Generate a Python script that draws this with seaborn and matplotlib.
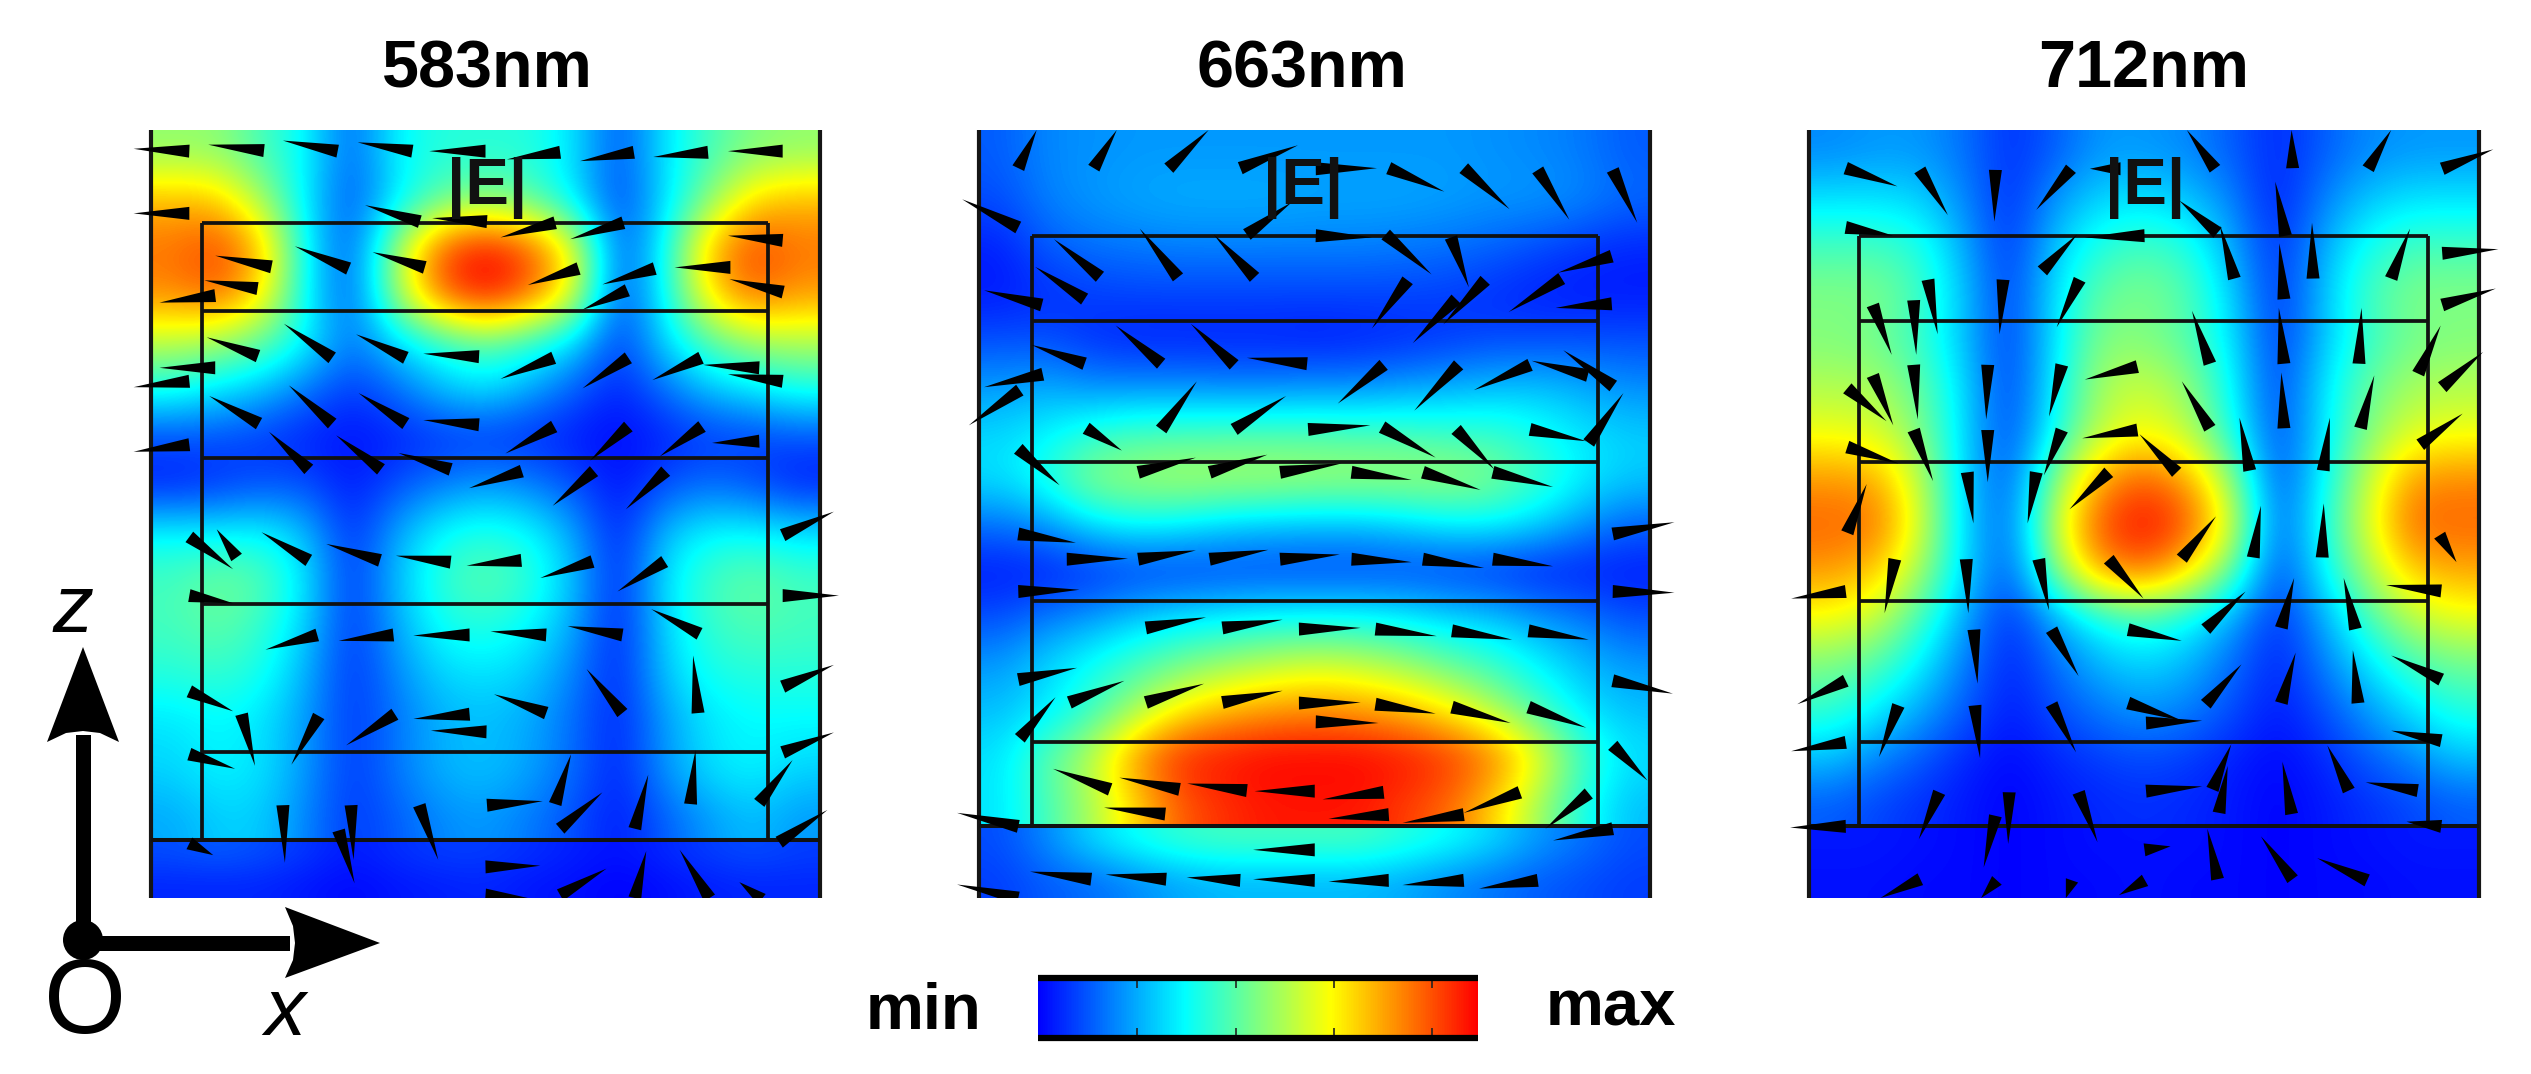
"""Field maps |E| at three wavelengths with polarisation wedges."""

import numpy as np
import matplotlib
matplotlib.use("Agg")
import matplotlib.pyplot as plt
import seaborn as sns
from matplotlib.collections import PolyCollection
from matplotlib.patches import Circle, Polygon, Rectangle

WIDTH, HEIGHT = 2531, 1074
PANEL_TOP, PANEL_BOTTOM = 130, 898

wavelengths = ["583nm", "663nm", "712nm"]

# |E|, 0 = min and 1 = max, rows run top to bottom
p1_field = [
    [.52, .52, .42, .33, .12, .33, .38, .38, .38, .30, .10, .30, .42, .50, .52],
    [.76, .74, .55, .30, .10, .30, .45, .50, .45, .30, .08, .28, .50, .72, .76],
    [.85, .92, .76, .32, .10, .55, .90, 1.0, .90, .66, .10, .33, .76, .92, .85],
    [.82, .88, .70, .32, .10, .55, .88, 1.0, .88, .64, .08, .33, .70, .87, .80],
    [.58, .54, .46, .33, .15, .28, .38, .45, .38, .28, .07, .28, .44, .54, .56],
    [.36, .30, .25, .15, .07, .14, .25, .30, .22, .12, .04, .14, .25, .30, .36],
    [.10, .10, .07, .04, .02, .04, .06, .06, .05, .03, .01, .04, .07, .08, .10],
    [.03, .06, .10, .10, .03, .10, .16, .20, .17, .10, .02, .10, .14, .10, .03],
    [.33, .32, .33, .25, .05, .22, .34, .38, .34, .22, .03, .25, .33, .33, .30],
    [.42, .48, .45, .30, .06, .25, .40, .46, .40, .25, .04, .30, .42, .47, .42],
    [.42, .46, .40, .27, .06, .22, .35, .38, .33, .22, .03, .28, .40, .44, .42],
    [.38, .40, .36, .23, .06, .18, .28, .30, .27, .17, .04, .26, .36, .38, .38],
    [.30, .33, .30, .20, .07, .15, .23, .25, .22, .14, .04, .20, .30, .33, .33],
    [.28, .33, .30, .20, .07, .16, .24, .26, .22, .14, .04, .20, .30, .33, .28],
    [.22, .27, .27, .17, .07, .12, .18, .20, .16, .10, .03, .12, .20, .25, .20],
]
p1_substrate = [
    [.10, .12, .10, .07, .03, .06, .08, .08, .06, .04, .02, .05, .08, .10, .08],
    [.05, .05, .05, .03, .01, .03, .04, .05, .03, .02, .00, .02, .04, .05, .05],
]
p2_field = [
    [.12, .18, .19, .20, .20, .20, .20, .20, .20, .20, .20, .19, .18, .16, .12],
    [.10, .17, .20, .22, .23, .23, .23, .22, .22, .22, .21, .20, .20, .18, .14],
    [.04, .12, .15, .16, .17, .17, .17, .17, .17, .16, .15, .13, .10, .07, .05],
    [.03, .06, .08, .09, .09, .09, .09, .09, .09, .09, .08, .06, .04, .03, .03],
    [.10, .10, .06, .04, .04, .04, .04, .03, .04, .05, .07, .09, .09, .10, .10],
    [.20, .22, .18, .18, .18, .17, .17, .18, .18, .20, .22, .24, .25, .22, .18],
    [.28, .32, .38, .42, .42, .43, .43, .43, .42, .42, .40, .40, .35, .30, .27],
    [.30, .38, .52, .55, .57, .57, .57, .56, .56, .55, .55, .50, .42, .32, .27],
    [.15, .20, .30, .34, .32, .28, .26, .25, .25, .28, .32, .33, .28, .20, .13],
    [.03, .03, .05, .07, .07, .08, .08, .08, .08, .08, .07, .05, .03, .03, .03],
    [.10, .16, .20, .26, .30, .32, .34, .34, .34, .32, .28, .26, .20, .16, .10],
    [.20, .28, .35, .42, .48, .53, .57, .60, .58, .53, .46, .40, .32, .25, .20],
    [.25, .30, .40, .54, .68, .76, .80, .82, .80, .76, .68, .56, .42, .30, .25],
    [.30, .45, .58, .82, .96, .98, 1.0, 1.0, 1.0, .98, .94, .85, .66, .42, .30],
    [.30, .42, .55, .72, .88, .94, .97, .97, .97, .92, .86, .72, .54, .36, .25],
]
p2_substrate = [
    [.10, .18, .28, .35, .40, .42, .42, .42, .42, .38, .34, .28, .20, .15, .10],
    [.08, .12, .14, .18, .22, .24, .24, .24, .24, .22, .18, .15, .12, .10, .08],
]
p3_field = [
    [.18, .20, .20, .15, .06, .12, .20, .20, .18, .12, .05, .12, .18, .20, .20],
    [.30, .30, .28, .18, .05, .20, .28, .30, .26, .17, .03, .17, .26, .30, .30],
    [.42, .42, .38, .22, .06, .26, .38, .42, .38, .22, .05, .22, .36, .42, .42],
    [.50, .50, .42, .25, .07, .30, .46, .50, .44, .27, .05, .25, .42, .50, .50],
    [.50, .48, .40, .25, .07, .30, .50, .50, .44, .30, .06, .25, .40, .48, .50],
    [.56, .55, .46, .28, .07, .32, .55, .60, .52, .33, .07, .30, .46, .55, .56],
    [.64, .62, .50, .28, .08, .35, .58, .66, .58, .36, .08, .30, .50, .62, .64],
    [.80, .78, .58, .27, .10, .50, .78, .88, .78, .52, .08, .33, .58, .80, .82],
    [.87, .86, .62, .27, .12, .60, .90, 1.0, .90, .62, .10, .36, .62, .87, .87],
    [.80, .74, .55, .28, .10, .50, .80, .86, .72, .46, .08, .32, .55, .74, .78],
    [.66, .60, .42, .22, .05, .22, .36, .42, .34, .22, .05, .22, .42, .58, .64],
    [.50, .44, .32, .16, .04, .14, .24, .28, .24, .14, .04, .16, .30, .42, .48],
    [.40, .32, .22, .12, .03, .10, .16, .20, .17, .10, .03, .10, .20, .30, .38],
    [.26, .18, .12, .05, .01, .05, .08, .10, .08, .04, .01, .05, .12, .18, .26],
    [.12, .09, .06, .03, .00, .03, .05, .06, .05, .03, .00, .03, .06, .09, .12],
]
p3_substrate = [
    [.03, .03, .02, .01, .00, .01, .02, .02, .02, .01, .00, .01, .02, .03, .03],
    [.02, .02, .01, .01, .00, .01, .01, .02, .01, .01, .00, .01, .01, .02, .02],
]

# wedges: base x, base z, tip x, tip z
p1_arrows = [
    (180, 258, 68, 254), (330, 257, 218, 247), (478, 258, 368, 240), (628, 258, 518, 243),
    (775, 258, 662, 258), (925, 260, 818, 272), (1073, 260, 965, 275), (1222, 260, 1112, 268),
    (1372, 258, 1262, 258), (180, 364, 68, 364), (643, 378, 533, 350), (778, 378, 668, 372),
    (915, 380, 805, 405), (1052, 380, 945, 408), (1372, 410, 1262, 402), (345, 455, 232, 436),
    (500, 458, 392, 420), (653, 456, 548, 430), (962, 458, 860, 486), (1115, 458, 1010, 485),
    (1267, 456, 1155, 456), (317, 492, 210, 478), (232, 504, 120, 516), (1060, 495, 970, 528),
    (1373, 498, 1265, 476), (318, 607, 215, 575), (467, 610, 370, 552), (615, 610, 515, 570),
    (762, 608, 650, 603), (912, 610, 805, 646), (1062, 610, 970, 662), (1208, 610, 1110, 648),
    (1325, 627, 1212, 622), (1372, 650, 1262, 638), (232, 627, 120, 627), (180, 650, 68, 660),
    (180, 758, 68, 770), (320, 722, 220, 675), (467, 722, 380, 657), (615, 722, 520, 670),
    (762, 724, 650, 716), (913, 727, 815, 773), (1062, 727, 985, 785), (1210, 727, 1125, 778),
    (1325, 752, 1230, 755), (420, 800, 340, 736), (565, 800, 475, 742), (705, 800, 600, 772),
    (848, 803, 742, 832), (993, 803, 910, 862), (1137, 803, 1057, 868), (1372, 912, 1475, 872),
    (1372, 1015, 1485, 1015), (1372, 1170, 1475, 1133), (1372, 1282, 1475, 1248),
    (1365, 1435, 1462, 1380), (1325, 1368, 1392, 1295), (180, 915, 268, 970), (275, 950, 235, 902),
    (420, 955, 325, 907), (563, 955, 455, 927), (705, 958, 595, 947), (847, 955, 737, 964),
    (990, 957, 885, 985), (1135, 957, 1040, 1008), (180, 1015, 268, 1028), (437, 1082, 333, 1107),
    (590, 1082, 480, 1092), (743, 1082, 630, 1083), (897, 1082, 785, 1076), (1050, 1082, 940, 1067),
    (1205, 1080, 1108, 1038), (1202, 1215, 1192, 1117), (1050, 1215, 978, 1140),
    (897, 1215, 792, 1183), (743, 1217, 630, 1225), (593, 1217, 495, 1270), (440, 1220, 385, 1303),
    (285, 1217, 312, 1305), (180, 1178, 268, 1212), (180, 1285, 272, 1310), (777, 1247, 665, 1245),
    (778, 1372, 890, 1365), (915, 1370, 947, 1285), (925, 1412, 1010, 1350), (1075, 1412, 1102, 1320),
    (1187, 1370, 1197, 1278), (368, 1372, 372, 1470), (505, 1372, 510, 1465), (642, 1372, 680, 1465),
    (480, 1415, 512, 1505), (180, 1437, 228, 1457), (775, 1477, 885, 1475), (925, 1525, 1018, 1480),
    (1075, 1530, 1098, 1450), (1225, 1530, 1165, 1448), (1330, 1532, 1285, 1503), (775, 1525, 860, 1530),
]
p2_arrows = [
    (232, 287, 268, 222), (380, 287, 425, 222), (527, 287, 605, 222), (667, 287, 780, 248),
    (815, 288, 935, 287), (958, 287, 1067, 327), (1105, 287, 1195, 357), (1250, 290, 1312, 375),
    (1397, 290, 1445, 380), (232, 388, 122, 340), (680, 400, 768, 345), (815, 402, 925, 405),
    (392, 472, 302, 408), (545, 473, 470, 390), (695, 473, 615, 400), (952, 400, 1042, 468),
    (1080, 405, 1115, 490), (362, 510, 265, 455), (278, 520, 165, 495), (995, 478, 925, 560),
    (1147, 478, 1065, 553), (1297, 475, 1193, 532), (1395, 437, 1290, 465), (1395, 518, 1285, 525),
    (1090, 510, 1005, 585), (512, 620, 423, 555), (655, 622, 570, 552), (798, 620, 680, 610),
    (362, 620, 258, 588), (948, 622, 858, 688), (1095, 622, 1008, 700), (1235, 622, 1125, 665),
    (1348, 640, 1238, 615), (1398, 658, 1300, 597), (280, 638, 165, 660), (235, 665, 135, 725),
    (512, 732, 582, 650), (655, 732, 757, 675), (800, 732, 922, 725), (945, 728, 1050, 780),
    (1090, 732, 1165, 800), (1235, 732, 1345, 752), (1350, 755, 1418, 670), (365, 730, 435, 768),
    (232, 765, 313, 827), (467, 805, 580, 780), (607, 805, 720, 775), (745, 805, 865, 790),
    (885, 805, 1003, 818), (1025, 805, 1138, 835), (1162, 805, 1280, 830), (232, 910, 345, 925),
    (1397, 910, 1518, 890), (327, 953, 447, 952), (467, 953, 580, 938), (607, 953, 722, 937),
    (745, 953, 862, 945), (885, 953, 1003, 958), (1025, 953, 1145, 968), (1162, 953, 1280, 965),
    (232, 1008, 352, 1005), (1397, 1008, 1518, 1010), (482, 1070, 600, 1052), (632, 1070, 750, 1056),
    (782, 1072, 903, 1070), (932, 1072, 1052, 1084), (1082, 1075, 1200, 1090), (1232, 1075, 1350, 1090),
    (232, 1158, 347, 1138), (332, 1197, 440, 1160), (482, 1197, 596, 1165), (632, 1197, 750, 1177),
    (782, 1198, 903, 1197), (932, 1200, 1050, 1216), (1082, 1205, 1197, 1232), (1232, 1205, 1345, 1240),
    (1397, 1160, 1515, 1182), (815, 1230, 938, 1232), (235, 1258, 305, 1188), (1397, 1270, 1465, 1330),
    (412, 1345, 300, 1310), (548, 1345, 430, 1325), (680, 1347, 563, 1335), (813, 1348, 695, 1348),
    (948, 1350, 828, 1362), (1215, 1350, 1105, 1385), (1350, 1352, 1265, 1412), (520, 1387, 400, 1376),
    (958, 1388, 840, 1395), (1105, 1388, 985, 1402), (232, 1408, 112, 1385), (1397, 1412, 1280, 1432),
    (813, 1448, 692, 1448), (375, 1498, 255, 1485), (522, 1498, 403, 1490), (667, 1500, 562, 1495),
    (813, 1500, 692, 1498), (958, 1500, 840, 1502), (1105, 1500, 985, 1508), (1250, 1500, 1135, 1514),
    (232, 1530, 112, 1507),
]
p3_arrows = [
    (247, 287, 348, 318), (392, 290, 447, 367), (540, 290, 538, 378), (688, 288, 620, 358),
    (785, 288, 725, 288), (970, 288, 915, 222), (1122, 287, 1120, 222), (1270, 288, 1315, 222),
    (1415, 288, 1515, 255), (247, 388, 340, 402), (832, 402, 715, 405), (975, 397, 900, 342),
    (1415, 432, 1525, 425), (1108, 402, 1088, 310), (632, 462, 700, 400), (1008, 475, 980, 385),
    (1162, 475, 1160, 380), (1315, 475, 1352, 390), (1105, 510, 1096, 415), (1415, 520, 1520, 492),
    (408, 477, 427, 570), (555, 477, 548, 570), (705, 477, 660, 558), (300, 520, 337, 605),
    (380, 512, 385, 605), (1105, 620, 1095, 525), (960, 620, 925, 530), (1252, 620, 1257, 525),
    (1368, 637, 1412, 555), (1415, 660, 1495, 600), (380, 622, 388, 715), (525, 622, 522, 715),
    (670, 622, 645, 710), (818, 625, 715, 647), (300, 640, 340, 725), (250, 662, 327, 718),
    (1105, 730, 1100, 635), (960, 730, 905, 650), (1255, 730, 1282, 640), (1372, 758, 1455, 705),
    (818, 733, 710, 747), (250, 762, 350, 790), (380, 733, 418, 820), (525, 733, 525, 822),
    (670, 733, 635, 810), (620, 805, 603, 892), (1038, 802, 1018, 712), (1182, 802, 1195, 712),
    (895, 805, 822, 740), (762, 805, 685, 868), (485, 805, 497, 892), (250, 908, 288, 825),
    (1045, 950, 1060, 862), (1180, 950, 1183, 858), (905, 952, 972, 880), (1410, 912, 1443, 958),
    (343, 953, 323, 1045), (483, 953, 487, 1045), (625, 953, 645, 1040), (762, 953, 830, 1020),
    (247, 1008, 140, 1020), (1413, 1007, 1305, 997), (1100, 1070, 1125, 985), (1245, 1072, 1222, 985),
    (952, 1072, 1030, 1008), (498, 1073, 505, 1165), (650, 1073, 703, 1152), (800, 1073, 905, 1092),
    (247, 1160, 152, 1200), (1100, 1198, 1128, 1112), (1250, 1198, 1240, 1108), (952, 1200, 1022, 1132),
    (1413, 1158, 1315, 1117), (350, 1202, 312, 1290), (500, 1202, 510, 1292), (650, 1200, 698, 1282),
    (800, 1198, 905, 1228), (835, 1232, 945, 1228), (247, 1265, 140, 1280), (1413, 1262, 1315, 1245),
    (965, 1345, 1002, 1268), (978, 1385, 995, 1305), (1120, 1387, 1102, 1298), (1232, 1347, 1190, 1270),
    (1367, 1347, 1265, 1333), (835, 1348, 945, 1340), (430, 1350, 390, 1430), (567, 1350, 565, 1438),
    (703, 1350, 740, 1435), (247, 1408, 138, 1410), (1413, 1408, 1345, 1400), (540, 1390, 517, 1478),
    (975, 1498, 955, 1412), (1122, 1498, 1060, 1425), (1268, 1500, 1170, 1462), (832, 1448, 883, 1442),
    (393, 1498, 315, 1530), (543, 1500, 512, 1530), (690, 1500, 678, 1530), (833, 1500, 782, 1525),
]

# panel geometry: data limits, pixel span, slab box and layer boundaries
p1_limits, p1_span = (103, 1447), (151, 820)
p2_limits, p2_span = (155, 1470), (979, 1650)
p3_limits, p3_span = (175, 1487), (1809, 2479)
p1_box, p1_layers = (205, 1343), [380, 530, 780, 1030, 1282]
p2_box, p2_layers = (258, 1368), [403, 548, 787, 1025, 1265]
p3_box, p3_layers = (273, 1387), [403, 547, 787, 1025, 1265]
p1_floor, p2_floor, p3_floor = 1432, 1407, 1407
label_x = [778, 790, 833]
title_x = [487, 1302, 2144]
z_limits = (1530, 222)
cbar_ticks = [0.225, 0.449, 0.673, 0.896]

sns.set_theme(style="white")
plt.rcParams["font.family"] = ["Liberation Sans", "DejaVu Sans"]
plt.rcParams["text.color"] = "black"
field_cmap = sns.blend_palette(["#0000ff", "#00ffff", "#ffff00", "#ff0000"], n_colors=256, as_cmap=True)


def axes_from_pixels(fig, left, top, right, bottom):
    return fig.add_axes([left / WIDTH, 1 - bottom / HEIGHT, (right - left) / WIDTH, (bottom - top) / HEIGHT])


def wedge_polygons(arrows, sx, sy, half_width=6.5):
    """Thin triangles from base to tip, the base width given in pixels."""
    polys = []
    for bx, bz, tx, tz in arrows:
        dx, dy = (tx - bx) * sx, (tz - bz) * sy
        norm = np.hypot(dx, dy)
        nx, ny = -dy / norm * half_width, dx / norm * half_width
        polys.append([(bx + nx / sx, bz + ny / sy), (bx - nx / sx, bz - ny / sy), (tx, tz)])
    return polys


def draw_panel(fig, field, substrate, arrows, limits, span, box, layers, floor, e_x):
    ax = axes_from_pixels(fig, span[0], PANEL_TOP, span[1], PANEL_BOTTOM)
    # slab and substrate are separate images, the field jumps at the interface
    for values, low, high in [(field, floor, z_limits[1]), (substrate, z_limits[0], floor)]:
        ax.imshow(values, cmap=field_cmap, vmin=0, vmax=1, interpolation="bicubic",
                  interpolation_stage="data", aspect="auto",
                  extent=(limits[0], limits[1], low, high))
    ax.set_xlim(limits)
    ax.set_ylim(z_limits)
    ax.axis("off")

    # outer edges, slab outline and layer boundaries
    ax.vlines(limits, *z_limits, color="#151515", lw=3.0, clip_on=False)
    ax.vlines(box, layers[0], floor, color="#111111", lw=2.7)
    ax.hlines(layers, box[0], box[1], color="#111111", lw=2.7)
    ax.hlines(floor, limits[0], limits[1], color="#111111", lw=2.9)

    # wedges may leave the panel sideways but are cut at top and bottom
    sx = (span[1] - span[0]) / (limits[1] - limits[0])
    sy = (PANEL_BOTTOM - PANEL_TOP) / (z_limits[0] - z_limits[1])
    wedges = PolyCollection(wedge_polygons(arrows, sx, sy), facecolors="black", edgecolors="none", zorder=5)
    ax.add_collection(wedges)
    wedges.set_clip_path(Rectangle((-2000, z_limits[1]), 6000, z_limits[0] - z_limits[1], transform=ax.transData))

    ax.text(e_x, 320, "|E|", ha="center", va="center", fontsize=47, fontweight="bold", color="#111111", zorder=6)


def draw_colorbar(fig):
    ax = axes_from_pixels(fig, 1038, 978, 1478, 1038)
    ramp = np.linspace(0, 1, 256)[None, :]
    sns.heatmap(ramp, ax=ax, cmap=field_cmap, vmin=0, vmax=1, cbar=False, xticklabels=False, yticklabels=False)
    for frac in cbar_ticks:
        ax.vlines(256 * frac, 0, 0.17, color="#222222", lw=1.2)
        ax.vlines(256 * frac, 0.83, 1, color="#222222", lw=1.2)
    ax.hlines([0, 1], 0, 256, color="black", lw=4.5, clip_on=False)


def draw_overlay(fig):
    ax = fig.add_axes([0, 0, 1, 1])
    ax.set_xlim(0, WIDTH)
    ax.set_ylim(HEIGHT, 0)
    ax.axis("off")
    ax.patch.set_alpha(0)

    for label, cx in zip(wavelengths, title_x):
        ax.text(cx, 70, label, ha="center", va="center", fontsize=48, fontweight="bold")

    # coordinate triad
    ax.add_patch(Rectangle((76, 735), 15, 205, color="black", lw=0))
    ax.add_patch(Rectangle((90, 936), 200, 15, color="black", lw=0))
    ax.add_patch(Circle((83, 940), 20, color="black", lw=0))
    ax.add_patch(Polygon([(83, 647), (119, 742), (100, 733), (83, 731), (66, 733), (47, 742)], color="black", lw=0))
    ax.add_patch(Polygon([(380, 943), (285, 978), (293, 960), (295, 943), (293, 926), (285, 907)], color="black", lw=0))
    ax.text(73, 611, "z", ha="center", va="center", fontsize=59, style="italic")
    ax.text(85, 1006, "O", ha="center", va="center", fontsize=76)
    ax.text(285, 1014, "x", ha="center", va="center", fontsize=59, style="italic")

    ax.text(923, 1012, "min", ha="center", va="center", fontsize=47, fontweight="bold")
    ax.text(1611, 1008, "max", ha="center", va="center", fontsize=47, fontweight="bold")


def main():
    fig = plt.figure(figsize=(WIDTH / 100, HEIGHT / 100), dpi=100)
    draw_panel(fig, p1_field, p1_substrate, p1_arrows, p1_limits, p1_span, p1_box, p1_layers, p1_floor, label_x[0])
    draw_panel(fig, p2_field, p2_substrate, p2_arrows, p2_limits, p2_span, p2_box, p2_layers, p2_floor, label_x[1])
    draw_panel(fig, p3_field, p3_substrate, p3_arrows, p3_limits, p3_span, p3_box, p3_layers, p3_floor, label_x[2])
    draw_colorbar(fig)
    draw_overlay(fig)
    fig.savefig("out.png", dpi=100)
    plt.close(fig)


if __name__ == "__main__":
    main()
